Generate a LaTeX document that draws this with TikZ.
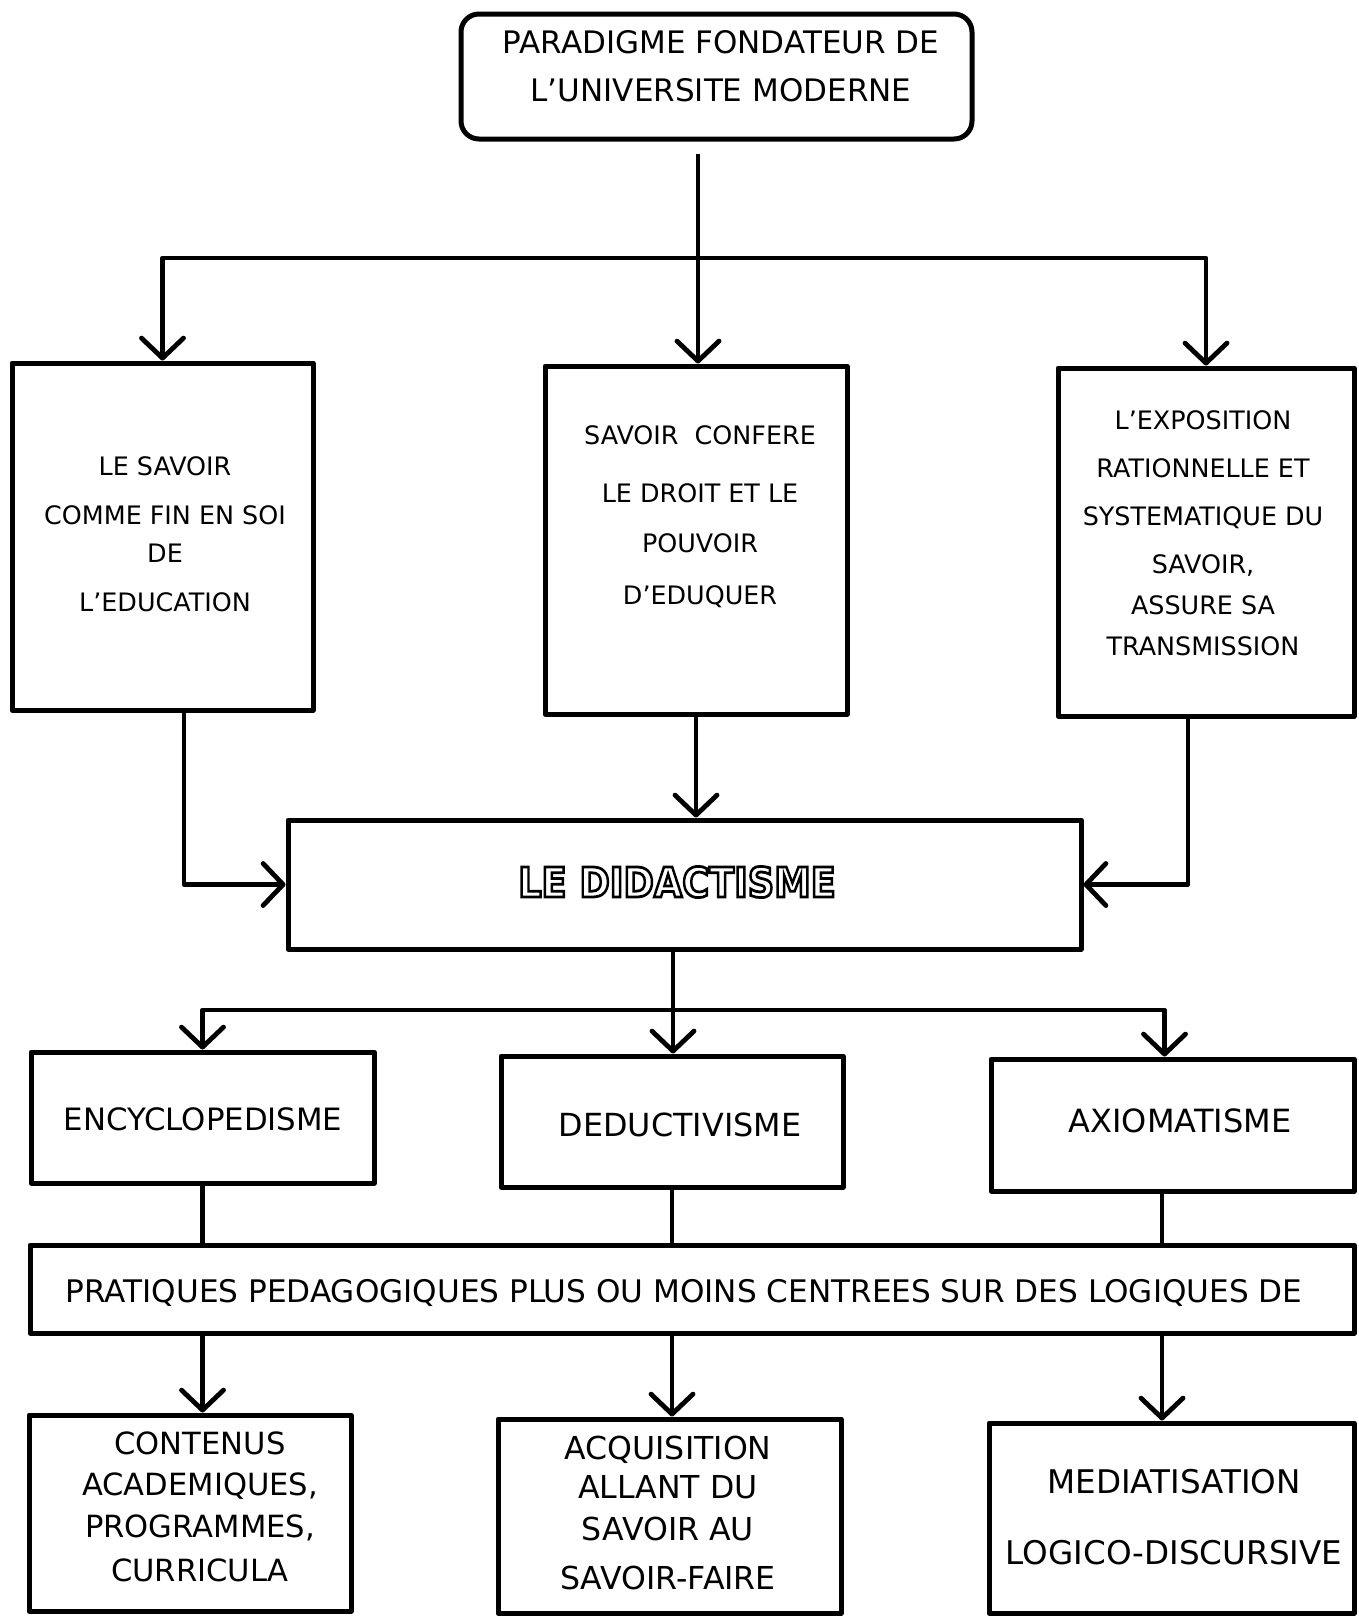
\documentclass[tikz,border=0pt]{standalone}
\usepackage{fontspec}
\setmainfont{DejaVu Sans}
\usetikzlibrary{arrows.meta,fit}
\newcommand{\outlinetext}[1]{\special{pdf:literal direct 1 Tr 1.3 w}#1\special{pdf:literal direct 0 Tr}}
\begin{document}
\begin{tikzpicture}[x=0.5pt,y=-0.5pt,
  >={Straight Barb[length=10pt,width=21pt,line width=2.4pt,round]},
  box/.style={draw,line width=2.5pt,inner sep=0pt,line join=round},
  conn/.style={line width=2.2pt,line join=round},
  txt/.style={align=center,inner sep=0pt},
  fsmall/.style={font=\fontsize{12.7}{24.5}\selectfont},
  fbig/.style={font=\fontsize{15.3}{21}\selectfont}]
\useasboundingbox (0,0) rectangle (1359,1617);
% boxes
\node[box,rounded corners=9pt,fit={(461,14) (972,139)}] (T) {};
\node[txt,font=\fontsize{15.5}{24}\selectfont] (Tt) at (721,66) {PARADIGME FONDATEUR DE\\L'UNIVERSITE MODERNE};

\node[box,fit={(12,363) (313,710)}] (L1) {};
\node[txt,fsmall] (L1t) at (165,534) {LE SAVOIR\\COMME FIN EN SOI\\[-5.5pt]DE\hspace*{18pt}\\L'EDUCATION};

\node[box,fit={(545,366) (847,714)}] (M1) {};
\node[txt,font=\fontsize{12.7}{26}\selectfont] (M1t) at (700,517) {SAVOIR~~CONFERE\\[3pt]LE DROIT ET LE\\[-1pt]POUVOIR\\D'EDUQUER};

\node[box,fit={(1058,368) (1354,716)}] (R1) {};
\node[txt,font=\fontsize{12.7}{24}\selectfont] (R1t) at (1203,533) {L'EXPOSITION\\RATIONNELLE ET\\SYSTEMATIQUE DU\\SAVOIR,\\[-3.5pt]ASSURE SA\\[-3.5pt]TRANSMISSION};

\node[box,fit={(288,820) (1081,949)}] (D) {};
\node[txt] (Dt) at (677,882) {\fontsize{19.5}{22}\selectfont\bfseries\scalebox{0.94}[1.06]{\outlinetext{LE DIDACTISME}}};

\node[box,fit={(31,1052) (374,1183)}] (E) {};
\node[txt,font=\fontsize{15.4}{18}\selectfont] (Et) at (203,1119) {ENCYCLOPEDISME};
\node[box,fit={(501,1056) (843,1187)}] (Dd) {};
\node[txt,font=\fontsize{15.9}{18}\selectfont] (Ddt) at (680,1125) {DEDUCTIVISME};
\node[box,fit={(991,1059) (1354,1191)}] (A) {};
\node[txt,font=\fontsize{16}{18}\selectfont] (At) at (1180,1121) {AXIOMATISME};

\node[box,fit={(30,1245) (1354,1333)}] (P) {};
\node[txt,font=\fontsize{15.55}{18}\selectfont] (Pt) at (684,1293) {PRATIQUES PEDAGOGIQUES PLUS OU MOINS CENTREES SUR DES LOGIQUES DE};

\node[box,fit={(29,1415) (351,1611)}] (C) {};
\node[txt,fbig] (Ct) at (200,1507) {CONTENUS\\[-0.5pt]ACADEMIQUES,\\PROGRAMMES,\\[1pt]CURRICULA};
\node[box,fit={(498,1419) (841,1613)}] (A2) {};
\node[txt,font=\fontsize{15.8}{21}\selectfont] (A2t) at (668,1513) {ACQUISITION\\[-1.5pt]ALLANT DU\\SAVOIR AU\\[3.5pt]SAVOIR-FAIRE};
\node[box,fit={(989,1423) (1354,1613)}] (M) {};
\node[txt,font=\fontsize{16.3}{35.5}\selectfont] (Mt) at (1174,1517) {MEDIATISATION\\LOGICO-DISCURSIVE};

% connectors
\coordinate (h1) at (698,258);
\draw[conn,->,shorten <=6pt] (T.south -| h1) -- (M1.north -| h1);
\draw[conn,<->] (L1.north) |- (h1) -| (R1.north);
\draw[conn,->] ([xshift=10.75pt]L1.south) |- (D.west);
\draw[conn,->] (M1.south) -- (M1.south |- D.north);
\draw[conn,->] ([xshift=-9pt]R1.south) |- (D.east);

\coordinate (h2) at (673,1010);
\draw[conn,->] (D.south -| h2) -- (Dd.north -| h2);
\draw[conn,<->] (E.north) |- (h2) -| ([xshift=-4pt]A.north);

\coordinate (ax) at (1162,1200);
\draw[conn] (E.south) -- (E.south |- P.north);
\draw[conn] (Dd.south) -- (Dd.south |- P.north);
\draw[conn] (A.south -| ax) -- (P.north -| ax);
\draw[conn,->] (P.south -| E.south) -- (C.north -| E.south);
\draw[conn,->] (P.south -| Dd.south) -- (A2.north -| Dd.south);
\draw[conn,->] (P.south -| ax) -- (M.north -| ax);
\end{tikzpicture}
\end{document}
